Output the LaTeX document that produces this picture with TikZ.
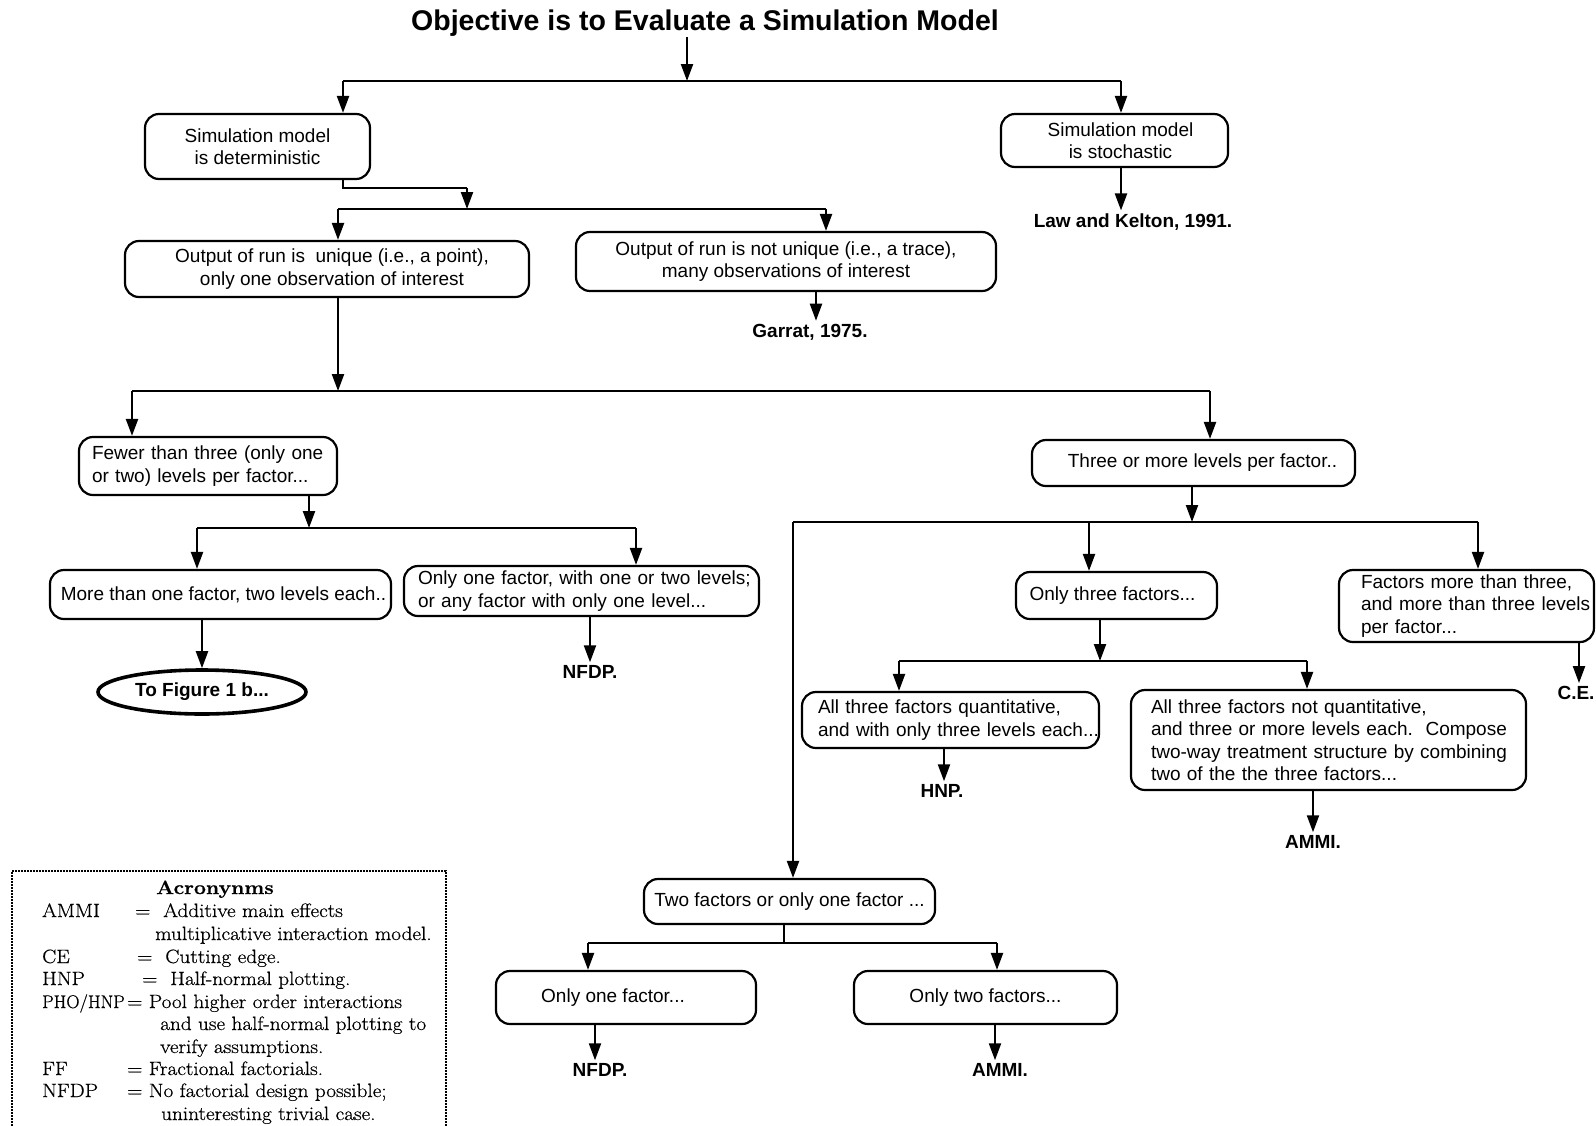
\documentclass[tikz,border=0pt]{standalone}
\usepackage{fontspec}
\setsansfont{Liberation Sans}
\newfontfamily\lgfont{Latin Modern Roman}[FakeStretch=1.1,FakeBold=0.6]
\newfontfamily\lgplain{Latin Modern Roman}[FakeBold=0.6]
\usetikzlibrary{arrows.meta,shapes.geometric}
\begin{document}
\begin{tikzpicture}[x=1pt,y=-1pt,
  box/.style={draw, line width=2.2pt, rounded corners=14pt, font=\sffamily\fontsize{19}{22.5}\selectfont, align=center, inner sep=0pt},
  lbox/.style={box, align=left},
  lbl/.style={font=\sffamily\bfseries\fontsize{19}{22}\selectfont, inner sep=3pt},
  arr/.style={line width=2.2pt, -{Triangle[length=17pt,width=12pt]}},
  ln/.style={line width=2.2pt},
  lg/.style={font=\lgfont\fontsize{19.3}{22}\selectfont, anchor=base west, inner sep=0pt}]
\useasboundingbox (0,0) rectangle (1596,1125);
\fill[white] (0,0) rectangle (1596,1125);

% title
\node[font=\sffamily\bfseries\fontsize{28.5}{32}\selectfont, inner sep=1pt] (title) at (705,23) {Objective is to Evaluate a Simulation Model};

% boxes
\node[box, minimum width=225pt, minimum height=65pt] (det) at (257.5,146.5) {Simulation model\\is deterministic};
\node[box, minimum width=227pt, minimum height=53pt] (sto) at (1114.5,140.5) {\hspace*{12pt}Simulation model\\\hspace*{12pt}is stochastic};
\node[lbl] (law) at (1133,222) {Law and Kelton, 1991.};
\node[box, minimum width=404pt, minimum height=56pt] (uniq) at (327,269) {\hspace*{10pt}Output of run is\ \ unique (i.e., a point),\\\hspace*{10pt}only one observation of interest};
\node[box, minimum width=420pt, minimum height=59pt] (nuniq) at (786,261.5) {Output of run is not unique (i.e., a trace),\\many observations of interest};
\node[lbl] (garrat) at (810,332) {Garrat, 1975.};
\node[lbox, minimum width=258pt, minimum height=58pt, text width=232pt] (fewer) at (208,466) {\mbox{Fewer than three (only one}\\\mbox{or two) levels per factor...}};
\node[box, minimum width=323pt, minimum height=46pt] (three) at (1193.5,463) {\hspace*{18pt}Three or more levels per factor..};
\node[box, minimum width=341pt, minimum height=49pt] (more1) at (220.5,594.5) {\hspace*{6pt}More than one factor, two levels each..};
\node[lbox, minimum width=355pt, minimum height=50pt, text width=327pt] (onef) at (581.5,591) {\mbox{Only one factor, with one or two levels;}\\\mbox{or any factor with only one level...}};
\node[draw, ellipse, line width=3.6pt, minimum width=208pt, minimum height=44pt, inner sep=0pt, font=\sffamily\bfseries\fontsize{19}{22}\selectfont] (fig) at (202,692) {To Figure 1 b...};
\node[lbl] (nfdpa) at (590,672) {NFDP.};
\node[box, minimum width=201pt, minimum height=47pt] (only3) at (1116.5,595.5) {Only three factors...\hspace*{8pt}};
\node[lbox, minimum width=255pt, minimum height=72pt, text width=211pt] (fmore) at (1466.5,606) {\mbox{Factors more than three,}\\\mbox{and more than three levels}\\\mbox{per factor...}};
\node[lbl] (ce) at (1576,693) {C.E.};
\node[lbox, minimum width=297pt, minimum height=56pt, text width=265pt] (q3) at (950.5,720) {\mbox{All three factors quantitative,}\\\mbox{and with only three levels each...}};
\node[lbl] (hnp) at (942,791) {HNP.};
\node[lbox, minimum width=395pt, minimum height=100pt, text width=355pt] (nq3) at (1328.5,740) {\mbox{All three factors not quantitative,}\\\mbox{and three or more levels each.\ \ Compose}\\\mbox{two-way treatment structure by combining}\\\mbox{two of the the three factors...}};
\node[lbl] (ammia) at (1313,842) {AMMI.};
\node[box, minimum width=291pt, minimum height=45pt] (two) at (789.5,901.5) {Two factors or only one factor ...};
\node[box, minimum width=260pt, minimum height=53pt] (one) at (626,997.5) {Only one factor...\hspace*{26pt}};
\node[box, minimum width=263pt, minimum height=53pt] (twof) at (985.5,997.5) {Only two factors...};
\node[lbl] (nfdpb) at (600,1070) {NFDP.};
\node[lbl] (ammib) at (1000,1070) {AMMI.};

% junction coordinates
\coordinate (t1) at (687,81);
\coordinate (h1a) at (343,81);
\coordinate (h1b) at (1121,81);
\coordinate (d1) at (343,188);
\coordinate (d2) at (467,188);
\coordinate (d3) at (467,209);
\coordinate (h2a) at (338,209);
\coordinate (h2b) at (826,209);
\coordinate (u1) at (338,391);
\coordinate (h3a) at (132,391);
\coordinate (h3b) at (1210,391);
\coordinate (f1) at (309,528);
\coordinate (h4a) at (197,528);
\coordinate (h4b) at (636,528);
\coordinate (r1) at (1192,522);
\coordinate (h5a) at (793,522);
\coordinate (h5b) at (1089,522);
\coordinate (h5c) at (1478,522);
\coordinate (o1) at (1100,661);
\coordinate (h6a) at (899,661);
\coordinate (h6b) at (1307,661);
\coordinate (w1) at (784,943);
\coordinate (h7a) at (588,943);
\coordinate (h7b) at (997,943);

% connectors
\draw[arr] (title.south -| t1) -- (t1);
\draw[ln] (h1a) -- (h1b);
\draw[arr] (h1a) -- (h1a |- det.north);
\draw[arr] (h1b) -- (h1b |- sto.north);
\draw[arr] (sto.south -| h1b) -- (law.north -| h1b);

\draw[ln] (det.south -| d1) -- (d1) -- (d2);
\draw[arr] (d2) -- (d3);
\draw[ln] (h2a) -- (h2b);
\draw[arr] (h2a) -- (h2a |- uniq.north);
\draw[arr] (h2b) -- (h2b |- nuniq.north);
\draw[arr] (nuniq.south -| 816,0) -- (garrat.north -| 816,0);

\draw[arr] (uniq.south -| u1) -- (u1);
\draw[ln] (h3a) -- (h3b);
\draw[arr] (h3a) -- (h3a |- fewer.north);
\draw[arr] (h3b) -- (h3b |- three.north);

\draw[arr] (fewer.south -| f1) -- (f1);
\draw[ln] (h4a) -- (h4b);
\draw[arr] (h4a) -- (h4a |- more1.north);
\draw[arr] (h4b) -- (h4b |- onef.north);
\draw[arr] (more1.south -| fig.north) -- (fig.north);
\draw[arr] (onef.south -| nfdpa) -- (nfdpa.north);

\draw[arr] (three.south -| r1) -- (r1);
\draw[ln] (h5a) -- (h5c);
\draw[arr] (h5a) -- (h5a |- two.north);
\draw[arr] (h5b) -- (h5b |- only3.north);
\draw[arr] (h5c) -- (h5c |- fmore.north);
\draw[arr] (fmore.south -| 1579,0) -- (ce.north -| 1579,0);

\draw[arr] (only3.south -| o1) -- (o1);
\draw[ln] (h6a) -- (h6b);
\draw[arr] (h6a) -- (h6a |- q3.north);
\draw[arr] (h6b) -- (h6b |- nq3.north);
\draw[arr] (q3.south -| 944,0) -- (hnp.north -| 944,0);
\draw[arr] (nq3.south -| ammia) -- (ammia.north);

\draw[ln] (two.south -| w1) -- (w1);
\draw[ln] (h7a) -- (h7b);
\draw[arr] (h7a) -- (h7a |- one.north);
\draw[arr] (h7b) -- (h7b |- twof.north);
\draw[arr] (one.south -| 595,0) -- (nfdpb.north -| 595,0);
\draw[arr] (twof.south -| 995,0) -- (ammib.north -| 995,0);

% legend
\node[draw, line width=2pt, dash pattern=on 2pt off 1pt, minimum width=434pt, minimum height=280pt, inner sep=0pt, anchor=north west] (legend) at (11,870) {};
\node[lg, anchor=base, font=\lgfont\bfseries\fontsize{19.3}{22}\selectfont] (lg0) at (215,894) {Acronynms};
\node[lg] (lg1) at (42,917) {AMMI};
\node[lg] (lg1b) at (135,917) {= \ Additive main effects};
\node[lg] (lg2) at (155,940) {multiplicative interaction model.};
\node[lg] (lg3) at (42,963) {CE};
\node[lg] (lg3b) at (137,963) {= \ Cutting edge.};
\node[lg] (lg4) at (42,985) {HNP};
\node[lg] (lg4b) at (142,985) {= \ Half-normal plotting.};
\node[lg, font=\lgplain\fontsize{18.3}{22}\selectfont] (lg5) at (42,1008) {PHO/HNP};
\node[lg] (lg5b) at (127,1008) {= Pool higher order interactions};
\node[lg] (lg6) at (160,1030) {and use half-normal plotting to};
\node[lg] (lg7) at (160,1053) {verify assumptions.};
\node[lg] (lg8) at (42,1075) {FF};
\node[lg] (lg8b) at (127,1075) {= Fractional factorials.};
\node[lg] (lg9) at (42,1097) {NFDP};
\node[lg] (lg9b) at (127,1097) {= No factorial design possible;};
\node[lg] (lg10) at (161,1120) {uninteresting trivial case.};
\end{tikzpicture}
\end{document}
